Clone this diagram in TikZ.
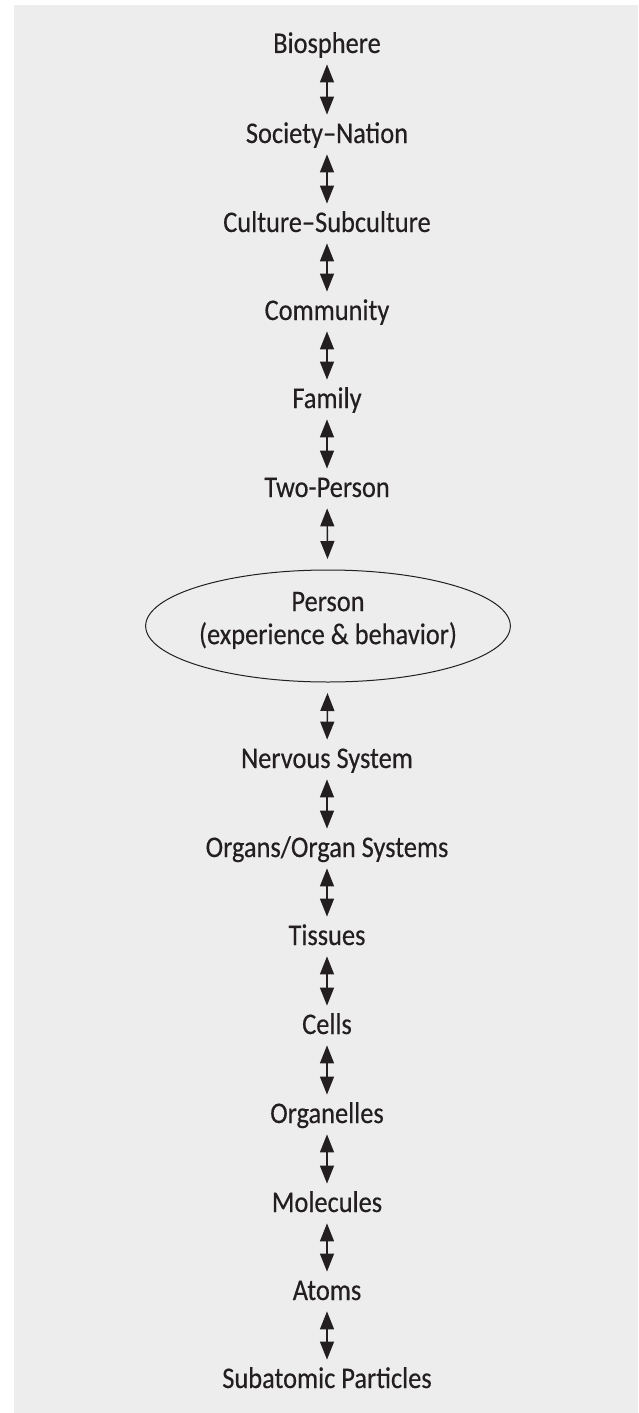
\documentclass[tikz,border=0pt]{standalone}
\usepackage{fontspec}
\setmainfont[FakeStretch=0.88, FakeBold=0.35]{Carlito}
\usepackage{xcolor}
\usepackage{tikz}
\usetikzlibrary{shapes,arrows.meta}
\definecolor{panel}{HTML}{EDEDED}
\definecolor{ink}{HTML}{231F20}

\begin{document}
\begin{tikzpicture}[x=0.5pt, y=-0.5pt,
font=\fontsize{15pt}{18pt}\selectfont, color=ink,
level/.style={inner sep=0pt, text height=14pt, text depth=5.5pt, anchor=base},
self/.style={ellipse, draw, line width=0.5pt, minimum width=151pt, minimum height=56pt, inner sep=0pt, outer sep=5.5pt, align=center, text depth=8pt},
link/.style={<->, line width=0.7pt},
>={Triangle[length=9pt, width=7pt]},
]
%Background
\fill[white] (0, 0) rectangle (638, 1413);
\fill[panel] (14, 5) rectangle (638, 1413);
\useasboundingbox (0, 0) rectangle (638, 1413);

%Upper levels
\node[level] (bio) at (327, 53) {Biosphere};
\node[level] (soc) at (327, 143) {Society–Nation};
\node[level] (cul) at (327, 232) {Culture–Subculture};
\node[level] (com) at (327, 320) {Community};
\node[level] (fam) at (327, 408) {Family};
\node[level] (two) at (327, 497) {Two-Person};

%Person
\node[self] (person) at (328, 626) {Person\\[-1.5pt](experience \& behavior)};

%Lower levels
\node[level] (nerv) at (327, 768) {Nervous System};
\node[level] (organs) at (327, 857) {Organs/Organ Systems};
\node[level] (tissues) at (327, 945) {Tissues};
\node[level] (cells) at (327, 1034) {Cells};
\node[level] (orgl) at (327, 1123) {Organelles};
\node[level] (mol) at (327, 1212) {Molecules};
\node[level] (atoms) at (327, 1300) {Atoms};
\node[level] (subat) at (327, 1388) {Subatomic Particles};

%Links
\draw[link] (bio) -- (soc);
\draw[link] (soc) -- (cul);
\draw[link] (cul) -- (com);
\draw[link] (com) -- (fam);
\draw[link] (fam) -- (two);
\draw[link] (two) -- (person);
\draw[link] (person) -- (nerv);
\draw[link] (nerv) -- (organs);
\draw[link] (organs) -- (tissues);
\draw[link] (tissues) -- (cells);
\draw[link] (cells) -- (orgl);
\draw[link] (orgl) -- (mol);
\draw[link] (mol) -- (atoms);
\draw[link] (atoms) -- (subat);
\end{tikzpicture}
\end{document}
